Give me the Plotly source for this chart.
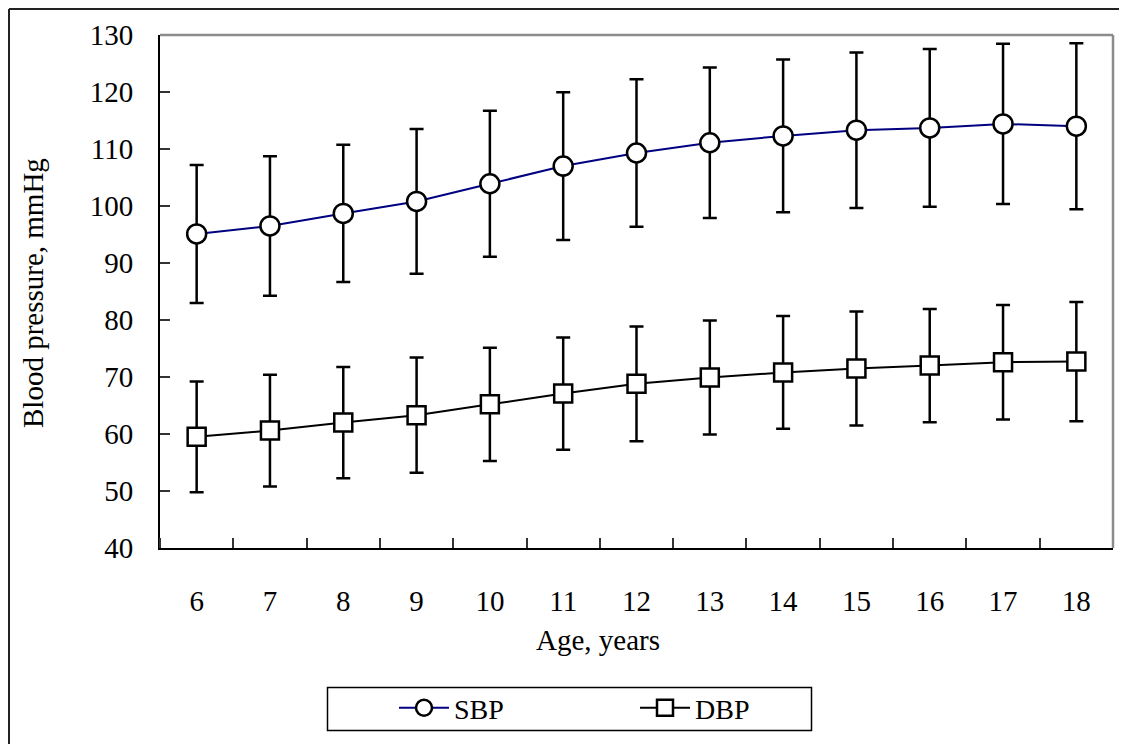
import plotly.graph_objects as go

ages = [6, 7, 8, 9, 10, 11, 12, 13, 14, 15, 16, 17, 18]
sbp_mean = [95.1, 96.5, 98.7, 100.8, 103.9, 107.0, 109.3, 111.1, 112.3, 113.3, 113.7, 114.4, 114.0]
sbp_sd = [12.1, 12.25, 12.05, 12.7, 12.8, 12.95, 12.95, 13.2, 13.4, 13.65, 13.85, 14.05, 14.55]
dbp_mean = [59.5, 60.6, 62.0, 63.3, 65.2, 67.1, 68.8, 69.9, 70.8, 71.5, 72.0, 72.6, 72.7]
dbp_sd = [9.7, 9.8, 9.75, 10.1, 9.95, 9.85, 10.05, 10.0, 9.9, 10.0, 9.95, 10.05, 10.45]
y_ticks = [40, 50, 60, 70, 80, 90, 100, 110, 120, 130]

FONT = "Liberation Serif"

# page offset of the figure (body margin) and plot area in page pixels
OFF = 8
L, R, T, B = 160, 1113, 35, 548
W, H = 1127, 744
def px(x):
    return (x - L) / (R - L)
def py(y):
    return (B - y) / (B - T)

fig = go.Figure()
fig.add_trace(go.Scatter(
    x=ages, y=sbp_mean, name="SBP", mode="lines+markers",
    line=dict(color="#000080", width=2),
    marker=dict(symbol="circle", size=19, color="white", line=dict(color="black", width=2.5)),
    error_y=dict(type="data", array=sbp_sd, visible=True, color="black", thickness=2.5, width=7),
))
fig.add_trace(go.Scatter(
    x=ages, y=dbp_mean, name="DBP", mode="lines+markers",
    line=dict(color="black", width=2),
    marker=dict(symbol="square", size=18, color="white", line=dict(color="black", width=2.5)),
    error_y=dict(type="data", array=dbp_sd, visible=True, color="black", thickness=2.5, width=7),
))

fig.update_layout(
    width=W, height=H,
    margin=dict(l=L - OFF, r=W - (R - OFF), t=T - OFF, b=H - (B - OFF)),
    paper_bgcolor="white", plot_bgcolor="white",
    font=dict(family=FONT, size=29, color="black"),
    showlegend=True,
    legend=dict(orientation="h", x=px(394), y=py(708), xanchor="left", yanchor="middle",
                entrywidth=176, entrywidthmode="pixels", itemwidth=50,
                font=dict(family=FONT, size=28), bgcolor="rgba(0,0,0,0)"),
    xaxis=dict(range=[5.5, 18.5], tickvals=ages, ticktext=[str(a) for a in ages],
               ticks="", showgrid=False, zeroline=False,
               showline=True, linecolor="black", linewidth=2,
               ticklabelstandoff=26,
               minor=dict(tick0=5.5, dtick=1, ticks="inside", ticklen=10, tickwidth=1.5,
                          tickcolor="#333", showgrid=False)),
    yaxis=dict(range=[40, 130], tickvals=y_ticks, ticks="inside", ticklen=10, tickwidth=1.5,
               tickcolor="#333", showgrid=False, zeroline=False,
               showline=True, linecolor="black", linewidth=2,
               ticklabelstandoff=19),
    annotations=[
        dict(text="Age, years", xref="paper", yref="paper", x=px(598), y=py(640),
             showarrow=False, font=dict(family=FONT, size=29), xanchor="center", yanchor="middle"),
        dict(text="Blood pressure, mmHg", xref="paper", yref="paper", x=px(33), y=py(293),
             textangle=-90, showarrow=False, font=dict(family=FONT, size=29),
             xanchor="center", yanchor="middle"),
    ],
    shapes=[
        # gray top and right frame of plot area
        dict(type="line", xref="paper", yref="paper", x0=0, x1=1, y0=1, y1=1,
             line=dict(color="#8c8c8c", width=2.5)),
        dict(type="line", xref="paper", yref="paper", x0=1, x1=1, y0=0, y1=1,
             line=dict(color="#8c8c8c", width=2.5)),
        # outer figure frame (left and top)
        dict(type="line", xref="paper", yref="paper", x0=px(9), x1=px(1140), y0=py(9), y1=py(9),
             line=dict(color="#222", width=2)),
        dict(type="line", xref="paper", yref="paper", x0=px(9), x1=px(9), y0=py(9), y1=py(760),
             line=dict(color="#222", width=2)),
        # legend box
        dict(type="rect", xref="paper", yref="paper", x0=px(327.5), x1=px(811.5), y0=py(687.5), y1=py(730.5),
             line=dict(color="black", width=1.5)),
    ],
)

fig.write_html("out.html")
